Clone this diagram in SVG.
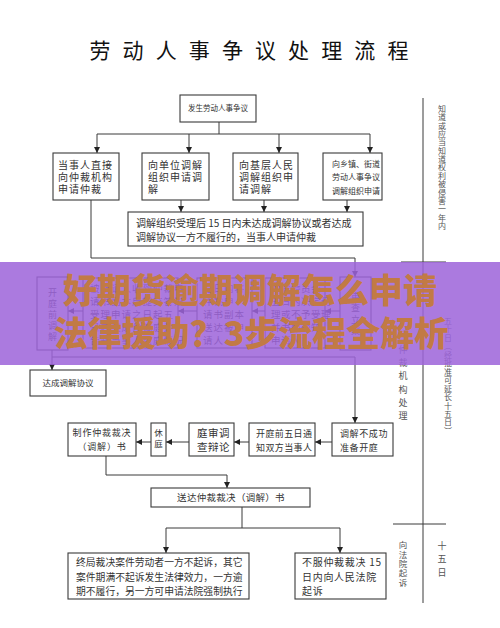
<svg xmlns="http://www.w3.org/2000/svg" width="500" height="628" viewBox="0 0 500 628">
<style>
.bx{fill:#fff;stroke:#3a3a3a;stroke-width:1.1}
.t{font-family:"Noto Sans CJK SC","Liberation Sans",sans-serif;fill:#333}
.ln{fill:none;stroke:#3a3a3a;stroke-width:1}
.ar{fill:none;stroke:#3a3a3a;stroke-width:1;marker-end:url(#ah)}
.v{writing-mode:vertical-rl}
.ov{font-family:"Noto Sans CJK SC",sans-serif;font-weight:900;font-size:34px;fill:#c27a45}
</style>
<defs>
<marker id="ah" markerUnits="userSpaceOnUse" markerWidth="6" markerHeight="6" refX="6" refY="3" orient="auto">
<path d="M0,0 L6,3 L0,6 z" fill="#222"/>
</marker>
</defs>
<rect width="500" height="628" fill="#fff"/>
<text class="t" x="89.5" y="58" font-size="21" letter-spacing="12.1" fill="#111" style="fill:#111">劳动人事争议处理流程</text>

<g id="connectors">
<path class="ln" d="M219,122 V134 M97,134 H370"/>
<path class="ar" d="M97,134 V153"/>
<path class="ar" d="M189,134 V153"/>
<path class="ar" d="M279,134 V153"/>
<path class="ar" d="M370,134 V153"/>
<path class="ar" d="M181,200 V212"/>
<path class="ar" d="M264,200 V212"/>
<path class="ar" d="M347,200 V212"/>
<path class="ar" d="M91,200 V258 H355 V277"/>
<path class="ar" d="M340,311 H325"/>
<path class="ar" d="M265,311 H252"/>
<path class="ar" d="M197,311 H178"/>
<path class="ar" d="M83,311 H68"/>
<path class="ar" d="M52,350 V370"/>
<path class="ar" d="M52,357 H355 V423"/>
<path class="ar" d="M332,442 H315"/>
<path class="ar" d="M249,442 H234"/>
<path class="ar" d="M189,442 H166"/>
<path class="ar" d="M151,442 H136"/>
<path class="ar" d="M106,456 V475 H227 V488"/>
<path class="ln" d="M242,507 V528 M166,528 H340"/>
<path class="ar" d="M166,528 V553"/>
<path class="ar" d="M340,528 V553"/>
<path class="ln" d="M423,98 V603 M401,262 H446 M393,524 H446" stroke="#555"/>
</g>

<g id="n-start"><rect class="bx" x="180" y="95" width="76" height="27"/><text class="t" x="218" y="111" font-size="7.5" text-anchor="middle">发生劳动人事争议</text></g>

<g id="n-direct"><rect class="bx" x="53" y="153" width="66" height="47"/>
<text class="t" font-size="10" letter-spacing="1"><tspan x="58" y="169">当事人直接</tspan><tspan x="58" y="181">向仲裁机构</tspan><tspan x="58" y="193">申请仲裁</tspan></text></g>

<g id="n-unit"><rect class="bx" x="142" y="153" width="67" height="47"/>
<text class="t" font-size="10" letter-spacing="1"><tspan x="148" y="169">向单位调解</tspan><tspan x="148" y="181">组织申请调</tspan><tspan x="148" y="193">解</tspan></text></g>

<g id="n-people"><rect class="bx" x="233" y="153" width="65" height="47"/>
<text class="t" font-size="10" letter-spacing="1"><tspan x="239" y="169">向基层人民</tspan><tspan x="239" y="181">调解组织申</tspan><tspan x="239" y="193">请调解</tspan></text></g>

<g id="n-town"><rect class="bx" x="323" y="153" width="59" height="47"/>
<text class="t" font-size="8"><tspan x="332" y="167">向乡镇、街道</tspan><tspan x="332" y="180">劳动人事争议</tspan><tspan x="332" y="194">调解组织申请</tspan></text></g>

<g id="n-fail"><rect class="bx" x="128" y="212" width="235" height="34"/>
<text class="t" font-size="10"><tspan x="136" y="227">调解组织受理后 15 日内未达成调解协议或者达成</tspan><tspan x="136" y="241">调解协议一方不履行的，当事人申请仲裁</tspan></text></g>

<g id="n-pre"><rect class="bx" x="37" y="277" width="31" height="73"/>
<text class="t v" x="52.5" y="288" font-size="9" letter-spacing="2">开庭前调解</text></g>

<g id="n-form"><rect class="bx" x="83" y="278" width="95" height="70"/>
<text class="t" font-size="9.5" letter-spacing="1"><tspan x="90" y="292">被申请人收到仲裁申</tspan><tspan x="90" y="305">请书副本后提交答辩</tspan><tspan x="90" y="318">受理申请之日起五</tspan><tspan x="90" y="331">日内组成仲裁庭并</tspan><tspan x="90" y="344">告知当事人组庭情况</tspan></text></g>

<g id="n-copy"><rect class="bx" x="197" y="278" width="55" height="70"/>
<text class="t" font-size="9.5" letter-spacing="1"><tspan x="203" y="292">五日内将</tspan><tspan x="203" y="305">仲裁申</tspan><tspan x="203" y="318">请书副本</tspan><tspan x="203" y="331">送达被申</tspan><tspan x="203" y="344">请人</tspan></text></g>

<g id="n-accept"><rect class="bx" x="265" y="278" width="60" height="70"/>
<text class="t" font-size="9.5" letter-spacing="0.5"><tspan x="271" y="292">仲裁委员会</tspan><tspan x="271" y="305">五日内决定受</tspan><tspan x="271" y="318">理或不予受理</tspan><tspan x="271" y="331">并书面通知</tspan><tspan x="271" y="344">申请人</tspan></text></g>

<g id="n-file"><rect class="bx" x="340" y="277" width="31" height="73"/>
<text class="t v" x="355.5" y="292" font-size="9" letter-spacing="2.5">审查立案</text></g>

<g id="n-agree"><rect class="bx" x="30" y="370" width="76" height="26"/><text class="t" x="68" y="386" font-size="8.5" text-anchor="middle">达成调解协议</text></g>

<g id="n-make"><rect class="bx" x="68" y="423" width="68" height="33"/>
<text class="t" font-size="9" letter-spacing="0.8" text-anchor="middle"><tspan x="102" y="436">制作仲裁裁决</tspan><tspan x="102" y="450">（调解）书</tspan></text></g>

<g id="n-rest"><rect class="bx" x="151" y="423" width="15" height="33"/>
<text class="t" font-size="8.5" text-anchor="middle"><tspan x="158.5" y="436">休</tspan><tspan x="158.5" y="447">庭</tspan></text></g>

<g id="n-trial"><rect class="bx" x="189" y="423" width="45" height="33"/>
<text class="t" font-size="10.5" letter-spacing="0.5"><tspan x="197" y="437">庭审调</tspan><tspan x="197" y="451">查辩论</tspan></text></g>

<g id="n-notify"><rect class="bx" x="249" y="423" width="66" height="33"/>
<text class="t" font-size="9" letter-spacing="0.4"><tspan x="256" y="437">开庭前五日通</tspan><tspan x="256" y="451">知双方当事人</tspan></text></g>

<g id="n-prepare"><rect class="bx" x="332" y="423" width="61" height="33"/>
<text class="t" font-size="9" letter-spacing="0.6"><tspan x="340" y="437">调解不成功</tspan><tspan x="340" y="451">准备开庭</tspan></text></g>

<g id="n-deliver"><rect class="bx" x="151" y="488" width="159" height="19"/>
<text class="t" x="231" y="501" font-size="9.5" letter-spacing="0.3" text-anchor="middle">送达仲裁裁决（调解）书</text></g>

<g id="n-final"><rect class="bx" x="68" y="553" width="181" height="46"/>
<text class="t" font-size="9.8"><tspan x="76" y="566">终局裁决案件劳动者一方不起诉，其它</tspan><tspan x="76" y="581">案件期满不起诉发生法律效力，一方逾</tspan><tspan x="76" y="595">期不履行，另一方可申请法院强制执行</tspan></text></g>

<g id="n-sue"><rect class="bx" x="295" y="553" width="91" height="46"/>
<text class="t" font-size="10" letter-spacing="0.7"><tspan x="302" y="566">不服仲裁裁决 15</tspan><tspan x="302" y="581">日内向人民法院</tspan><tspan x="302" y="595">起诉</tspan></text></g>

<g id="side-labels" fill="#555">
<text class="t v" x="442" y="105" font-size="8" letter-spacing="0.35" style="fill:#555">知道或应当知道权利被侵害一年内</text>
<text class="t v" x="448" y="317" font-size="8" letter-spacing="0.45" style="fill:#555">五十日（经批准可延长十五日）</text>
<text class="t v" x="403" y="345" font-size="9" letter-spacing="4.2" style="fill:#555">仲裁机构处理</text>
<text class="t v" x="403" y="541" font-size="8.5" letter-spacing="0.8" style="fill:#555">向法院起诉</text>
<text class="t v" x="442" y="541" font-size="9" letter-spacing="4.5" style="fill:#555">十五日</text>
</g>

<rect x="0" y="262" width="500" height="103" fill="#9d64da" opacity="0.86"/>
<text class="ov" x="250" y="303" text-anchor="middle">好期货逾期调解怎么申请</text>
<text class="ov" x="251" y="346" text-anchor="middle">法律援助？3步流程全解析</text>
</svg>
